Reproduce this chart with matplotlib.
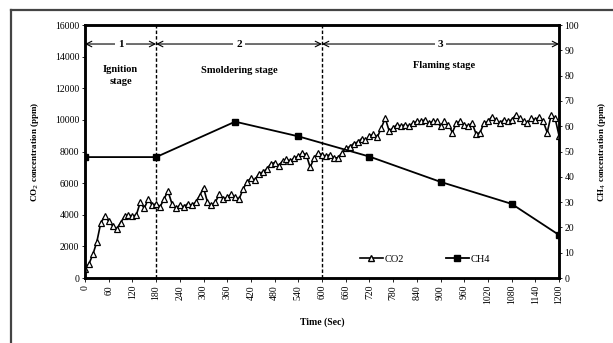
import numpy as np
import matplotlib.pyplot as plt
from matplotlib.lines import Line2D

# CO2 readings every 10 s (ppm)
co2_time = list(range(0, 1201, 10))
co2_ppm = [600, 900, 1500, 2300, 3500, 3900, 3600, 3300, 3100, 3500,
           3900, 4000, 3900, 4000, 4800, 4400, 5000, 4600, 4700, 4500,
           5000, 5500, 4700, 4400, 4600, 4500, 4700, 4600, 4800, 5200,
           5700, 4800, 4600, 4800, 5300, 5000, 5100, 5300, 5100, 5000,
           5600, 6100, 6300, 6200, 6600, 6700, 6900, 7200, 7300, 7100,
           7400, 7500, 7400, 7600, 7700, 7900, 7800, 7000, 7600, 7900,
           7800, 7700, 7800, 7600, 7600, 7900, 8200, 8300, 8500, 8600,
           8800, 8700, 9000, 9100, 8900, 9500, 10100, 9300, 9500, 9700,
           9600, 9700, 9600, 9800, 9900, 9900, 10000, 9800, 9900, 9900,
           9600, 9900, 9700, 9200, 9800, 9900, 9700, 9600, 9800, 9100,
           9200, 9800, 9900, 10200, 10000, 9800, 10000, 9900, 10000, 10300,
           10100, 9900, 9800, 10100, 10000, 10200, 9900, 9200, 10300, 10100,
           9000]

# CH4 readings (ppm)
ch4_time = [0, 180, 380, 540, 720, 900, 1080, 1200]
ch4_ppm = [47.8, 47.8, 61.8, 56, 48, 38, 29.3, 17]

stage_bounds = [0, 180, 600, 1200]
stage_nums = ['1', '2', '3']
stage_names = ['Ignition\nstage', 'Smoldering stage', 'Flaming stage']
xticks = list(range(0, 1201, 60))

plt.rcParams['font.family'] = ['Liberation Serif', 'DejaVu Serif']

fig = plt.figure(figsize=(6.13, 3.43), dpi=100)
ax1 = fig.add_axes([0.1387, 0.1895, 0.912 - 0.1387, 0.927 - 0.1895])
ax2 = ax1.twinx()

ax1.plot(co2_time, co2_ppm, color='black', lw=1.2, marker='^', markersize=3.8,
         markerfacecolor='white', markeredgecolor='black', markeredgewidth=0.9,
         zorder=3)
ax2.plot(ch4_time, ch4_ppm, color='black', lw=1.3, marker='s', markersize=4.5)

ax1.set_xlim(0, 1200)
ax1.set_ylim(0, 16000)
ax2.set_ylim(0, 100)
ax1.set_xticks(xticks)
ax1.set_xticklabels([str(t) for t in xticks], rotation=90, fontsize=7)
ax1.set_yticks(range(0, 16001, 2000))
ax2.set_yticks(range(0, 101, 10))
ax1.tick_params(axis='y', labelsize=7, length=2, width=0.6, pad=2)
ax1.tick_params(axis='x', length=3, width=0.6, pad=2)
ax2.tick_params(axis='y', labelsize=7, length=2, width=0.6, pad=2)
for ax in (ax1, ax2):
    for s in ax.spines.values():
        s.set_linewidth(1.8)

ax1.set_xlabel('Time (Sec)', fontsize=7, fontweight='bold', labelpad=9)
ax1.set_ylabel('CO$_2$ concentration (ppm)', fontsize=6.5, fontweight='bold', labelpad=10)
ax2.set_ylabel('CH$_4$ concentration (ppm)', fontsize=6.5, fontweight='bold',
               rotation=90, labelpad=12)

# stage boundaries
for b in stage_bounds[1:-1]:
    ax1.axvline(b, color='black', lw=1.0, ls=(0, (2.5, 1.5)), zorder=2)

# stage arrows and names
for i in range(3):
    x0, x1 = stage_bounds[i], stage_bounds[i + 1]
    ax1.annotate('', xy=(x0, 14800), xytext=(x1, 14800),
                 arrowprops=dict(arrowstyle='<->', color='black', lw=0.8,
                                 shrinkA=0, shrinkB=0))
    xm = (x0 + x1) / 2
    ax1.text(xm, 14800, stage_nums[i], ha='center', va='center', fontsize=8,
             fontweight='bold', bbox=dict(facecolor='white', edgecolor='none', pad=2))
ax1.text(90, 12800, stage_names[0], ha='center', va='center', fontsize=7.5,
         fontweight='bold', linespacing=1.4)
ax1.text(390, 13100, stage_names[1], ha='center', va='center', fontsize=7.5, fontweight='bold')
ax1.text(910, 13450, stage_names[2], ha='center', va='center', fontsize=7.5, fontweight='bold')

handles = [Line2D([], [], color='black', lw=1.2, marker='^', markersize=3.8,
                  markerfacecolor='white', markeredgecolor='black'),
           Line2D([], [], color='black', lw=1.3, marker='s', markersize=4.5)]
ax1.legend(handles, ['CO2', 'CH4'], ncol=2, frameon=False, fontsize=7.5,
           loc='lower left', bbox_to_anchor=(0.56, 0.02), handlelength=2.2,
           columnspacing=4, handletextpad=0.2)

# outer frame
fig.add_artist(Line2D([11 / 613, 11 / 613], [0, 1 - 10 / 343], color='#444444', lw=1.6))
fig.add_artist(Line2D([11 / 613, 1], [1 - 10 / 343, 1 - 10 / 343], color='#444444', lw=1.6))

fig.savefig('out.png', dpi=100)
